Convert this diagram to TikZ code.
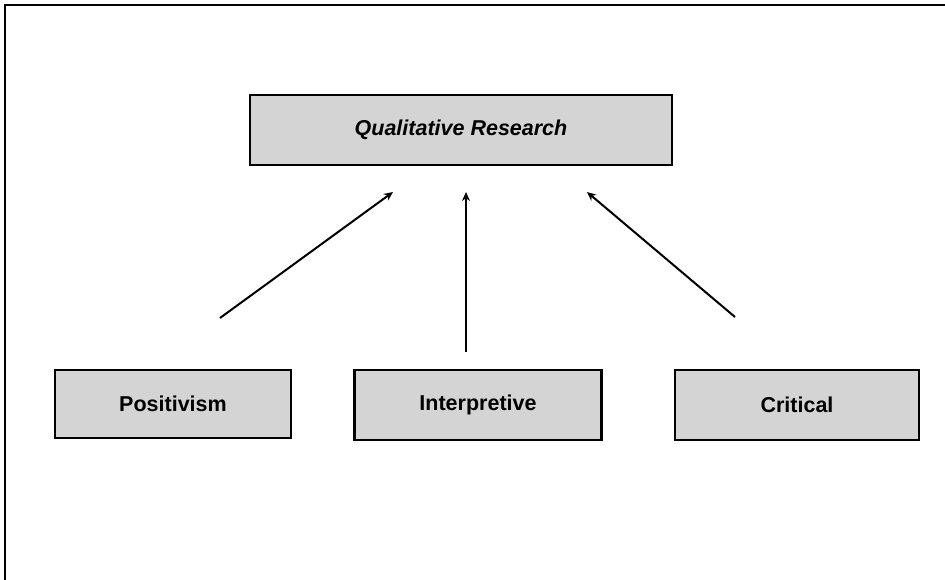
\documentclass[tikz,border=0pt]{standalone}
\usepackage{fontspec}
\setmainfont{Liberation Sans}
\usetikzlibrary{arrows.meta}
\begin{document}
\begin{tikzpicture}[x=1pt,y=-1pt,
  paradigm/.style={draw=black,line width=2.8pt,fill=black!17,inner sep=0pt,
    font=\fontsize{21.5}{25}\selectfont\bfseries},
  link/.style={line width=2pt,-{Stealth[length=9pt,width=8pt]}}]
  \useasboundingbox (0,0) rectangle (945,580);
  % outer frame (top and left edges)
  \draw[line width=2pt] (5,580) -- (5,5) -- (945,5);
  % boxes
  \node[paradigm,minimum width=422pt,minimum height=70pt,font=\fontsize{21.5}{25}\selectfont\bfseries\itshape]
    (qr) at (461,130) {Qualitative Research};
  \node[paradigm,minimum width=236pt,minimum height=68pt] (pos) at (173,404) {Positivism};
  \node[paradigm,minimum width=247pt,minimum height=70pt] (int) at (478,405) {Interpretive};
  \node[paradigm,minimum width=244pt,minimum height=70pt] (cri) at (797,405) {Critical};
  % arrow end points in the gap between the rows
  \coordinate (p1) at (220,318);
  \coordinate (q1) at (393,192);
  \coordinate (p2) at (466,352);
  \coordinate (q2) at (466,192);
  \coordinate (p3) at (735,317);
  \coordinate (q3) at (587,192);
  \draw[link] (p1) -- (q1);
  \draw[link] (p2) -- (q2);
  \draw[link] (p3) -- (q3);
\end{tikzpicture}
\end{document}
